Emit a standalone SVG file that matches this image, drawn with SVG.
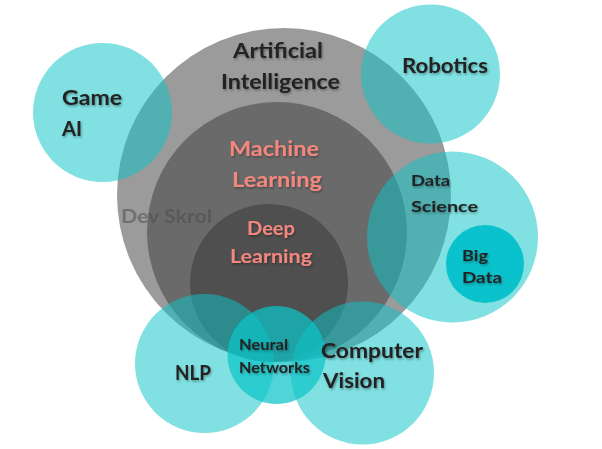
<svg xmlns="http://www.w3.org/2000/svg" width="602" height="449" viewBox="0 0 602 449">
<defs>
<filter id="sh" x="-20%" y="-30%" width="140%" height="160%">
<feDropShadow dx="1" dy="1.5" stdDeviation="1" flood-color="#000" flood-opacity="0.35"/>
</filter>
</defs>
<style>
.teal{fill:#0bc3c7;fill-opacity:0.52}
.lbl{font-family:Lato,"Open Sans","DejaVu Sans",sans-serif;font-weight:700;fill:#222;filter:url(#sh)}
.pink{fill:#f4877d}
.big{font-size:20.5px}
.sm{font-size:15.5px}
</style>
<rect width="602" height="449" fill="#fff"/>
<g id="ai">
<circle cx="284" cy="195" r="167" fill="#9b9b9b"/>
</g>
<g id="ml">
<circle cx="277" cy="232" r="130" fill="#6a6a6a"/>
</g>
<g id="dl">
<circle cx="269" cy="283" r="79" fill="#4f4f4f"/>
</g>
<g id="gameai"><circle class="teal" cx="102.5" cy="112.5" r="69.5"/></g>
<g id="robotics"><circle class="teal" cx="430.5" cy="74" r="69.5"/></g>
<g id="datascience"><circle class="teal" cx="452.5" cy="237" r="85.5"/></g>
<g id="bigdata"><circle cx="485" cy="264" r="39" fill="#0ac2cb"/></g>
<g id="nlp"><circle class="teal" cx="204.5" cy="363.5" r="69.5"/></g>
<g id="cv"><circle class="teal" cx="362.5" cy="373" r="71.5"/></g>
<g id="nn"><circle cx="276.5" cy="355" r="49" fill="#0bc3c7" fill-opacity="0.72"/></g>
<g id="connectors"></g>
<g id="labels">
<text class="lbl big" x="233" y="58" textLength="90" lengthAdjust="spacingAndGlyphs">Artificial</text>
<text class="lbl big" x="221" y="89" textLength="119" lengthAdjust="spacingAndGlyphs">Intelligence</text>
<text class="lbl big pink" x="229" y="156" textLength="90" lengthAdjust="spacingAndGlyphs">Machine</text>
<text class="lbl big pink" x="232" y="187" textLength="90" lengthAdjust="spacingAndGlyphs">Learning</text>
<text class="lbl pink" style="font-size:19.5px" x="247" y="235" textLength="48" lengthAdjust="spacingAndGlyphs">Deep</text>
<text class="lbl pink" style="font-size:19.5px" x="230" y="263" textLength="82" lengthAdjust="spacingAndGlyphs">Learning</text>
<text x="121" y="223" textLength="91" lengthAdjust="spacingAndGlyphs" style="font-family:Lato,'DejaVu Sans',sans-serif;font-weight:700;font-size:18px;fill:#4b4b4b;fill-opacity:0.54">Dev Skrol</text>
<text class="lbl big" x="62" y="105" textLength="60" lengthAdjust="spacingAndGlyphs">Game</text>
<text class="lbl big" x="62" y="136" textLength="20" lengthAdjust="spacingAndGlyphs">AI</text>
<text class="lbl big" x="402" y="73" textLength="86" lengthAdjust="spacingAndGlyphs">Robotics</text>
<text class="lbl sm" x="411" y="186" textLength="39" lengthAdjust="spacingAndGlyphs">Data</text>
<text class="lbl sm" x="411" y="212" textLength="67" lengthAdjust="spacingAndGlyphs">Science</text>
<text class="lbl sm" x="462" y="261" textLength="26" lengthAdjust="spacingAndGlyphs">Big</text>
<text class="lbl sm" x="462" y="283" textLength="40" lengthAdjust="spacingAndGlyphs">Data</text>
<text class="lbl big" x="175" y="380" textLength="36" lengthAdjust="spacingAndGlyphs">NLP</text>
<text class="lbl" style="font-size:15px" x="239" y="350" textLength="49" lengthAdjust="spacingAndGlyphs">Neural</text>
<text class="lbl" style="font-size:15px" x="239" y="373" textLength="71" lengthAdjust="spacingAndGlyphs">Networks</text>
<text class="lbl big" x="321" y="358" textLength="102" lengthAdjust="spacingAndGlyphs">Computer</text>
<text class="lbl big" x="323" y="388" textLength="62" lengthAdjust="spacingAndGlyphs">Vision</text>
</g>
</svg>
